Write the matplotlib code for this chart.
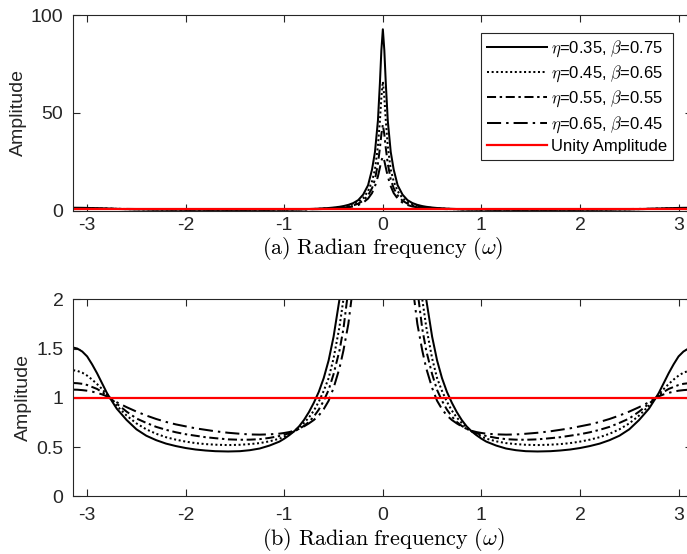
import numpy as np
import matplotlib
matplotlib.use("Agg")
import matplotlib.pyplot as plt

plt.rcParams['font.family'] = ['Liberation Sans', 'DejaVu Sans']
plt.rcParams['mathtext.fontset'] = 'cm'

# ---- data (radian frequency vs amplitude) ----
# left half (omega < 0), ascending
omega_left = [-3.1416, -3.1, -3.05, -3.0, -2.95, -2.9, -2.85, -2.8, -2.77, -2.7, -2.6,
              -2.5, -2.4, -2.3, -2.2, -2.1, -2.0, -1.9, -1.8, -1.7, -1.57, -1.45, -1.35,
              -1.25, -1.15, -1.05, -1.0, -0.95, -0.9, -0.85, -0.8, -0.75, -0.7, -0.65,
              -0.6, -0.55, -0.5, -0.44, -0.4, -0.35, -0.3, -0.25, -0.2, -0.15, -0.11,
              -0.08, -0.05, -0.03, -0.015]
# right half (omega >= 0), ascending
omega_right = [0.0, 0.015, 0.03, 0.05, 0.08, 0.11, 0.15, 0.2, 0.25, 0.3, 0.35, 0.4, 0.44,
               0.5, 0.55, 0.6, 0.65, 0.7, 0.75, 0.8, 0.85, 0.9, 0.95, 1.0, 1.05, 1.15,
               1.25, 1.35, 1.45, 1.57, 1.7, 1.8, 1.9, 2.0, 2.1, 2.2, 2.3, 2.4, 2.5, 2.6,
               2.7, 2.77, 2.8, 2.85, 2.9, 2.95, 3.0, 3.05, 3.1, 3.1416]

# eta=0.35, beta=0.75
amp_s1_left = [1.51, 1.50, 1.47, 1.42, 1.34, 1.25, 1.15, 1.05, 1.0, 0.89, 0.775,
               0.68, 0.615, 0.57, 0.535, 0.51, 0.49, 0.475, 0.465, 0.458, 0.455, 0.458,
               0.468, 0.485, 0.515, 0.555, 0.585, 0.62, 0.66, 0.71, 0.775, 0.855, 0.95,
               1.06, 1.2, 1.38, 1.62, 2.0, 2.36, 2.98, 3.9, 5.4, 8.2, 13.0, 21.0,
               30.0, 46.0, 65.0, 82.0]
amp_s1_right = [92.7, 82.0, 65.0, 46.0, 30.0, 21.0, 13.0, 8.2, 5.4, 3.9, 2.98, 2.36, 2.0,
                1.62, 1.38, 1.2, 1.06, 0.95, 0.855, 0.775, 0.71, 0.66, 0.62, 0.585, 0.555,
                0.515, 0.485, 0.468, 0.458, 0.455, 0.458, 0.465, 0.475, 0.49, 0.51, 0.535,
                0.57, 0.615, 0.68, 0.775, 0.89, 1.0, 1.05, 1.15, 1.25, 1.34, 1.42, 1.47,
                1.50, 1.51]

# eta=0.45, beta=0.65
amp_s2_left = [1.28, 1.273, 1.255, 1.225, 1.185, 1.14, 1.09, 1.035, 1.0, 0.92, 0.82,
               0.74, 0.68, 0.635, 0.6, 0.575, 0.555, 0.54, 0.53, 0.524, 0.52, 0.523,
               0.53, 0.54, 0.558, 0.585, 0.605, 0.63, 0.66, 0.7, 0.745, 0.8, 0.87,
               0.96, 1.07, 1.2, 1.4, 1.72, 2.0, 2.5, 3.3, 4.5, 6.4, 10.0, 15.0,
               21.0, 33.0, 46.0, 58.0]
amp_s2_right = [66.0, 58.0, 46.0, 33.0, 21.0, 15.0, 10.0, 6.4, 4.5, 3.3, 2.5, 2.0, 1.72,
                1.4, 1.2, 1.07, 0.96, 0.87, 0.8, 0.745, 0.7, 0.66, 0.63, 0.605, 0.585,
                0.558, 0.54, 0.53, 0.523, 0.52, 0.524, 0.53, 0.54, 0.555, 0.575, 0.6,
                0.635, 0.68, 0.74, 0.82, 0.92, 1.0, 1.035, 1.09, 1.14, 1.185, 1.225,
                1.255, 1.273, 1.28]

# eta=0.55, beta=0.55
amp_s3_left = [1.15, 1.148, 1.142, 1.13, 1.11, 1.09, 1.06, 1.025, 1.0, 0.94, 0.86,
               0.79, 0.745, 0.705, 0.675, 0.65, 0.63, 0.615, 0.6, 0.59, 0.578, 0.574,
               0.575, 0.58, 0.593, 0.612, 0.625, 0.64, 0.66, 0.685, 0.715, 0.755, 0.81,
               0.88, 0.97, 1.08, 1.24, 1.48, 1.7, 2.1, 2.7, 3.6, 5.1, 7.8, 11.5,
               16.0, 24.0, 32.0, 39.0]
amp_s3_right = [44.0, 39.0, 32.0, 24.0, 16.0, 11.5, 7.8, 5.1, 3.6, 2.7, 2.1, 1.7, 1.48,
                1.24, 1.08, 0.97, 0.88, 0.81, 0.755, 0.715, 0.685, 0.66, 0.64, 0.625,
                0.612, 0.593, 0.58, 0.575, 0.574, 0.578, 0.59, 0.6, 0.615, 0.63, 0.65,
                0.675, 0.705, 0.745, 0.79, 0.86, 0.94, 1.0, 1.025, 1.06, 1.09, 1.11,
                1.13, 1.142, 1.148, 1.15]

# eta=0.65, beta=0.45
amp_s4_left = [1.083, 1.082, 1.078, 1.072, 1.063, 1.05, 1.035, 1.015, 1.0, 0.955, 0.905,
               0.86, 0.82, 0.785, 0.755, 0.73, 0.71, 0.69, 0.675, 0.66, 0.645, 0.635,
               0.628, 0.626, 0.629, 0.636, 0.643, 0.652, 0.665, 0.685, 0.71, 0.74, 0.775,
               0.82, 0.885, 0.97, 1.1, 1.3, 1.48, 1.75, 2.15, 2.9, 4.1, 6.2, 9.0,
               12.5, 17.5, 22.0, 25.5]
amp_s4_right = [27.6, 25.5, 22.0, 17.5, 12.5, 9.0, 6.2, 4.1, 2.9, 2.15, 1.75, 1.48, 1.3,
                1.1, 0.97, 0.885, 0.82, 0.775, 0.74, 0.71, 0.685, 0.665, 0.652, 0.643,
                0.636, 0.629, 0.626, 0.628, 0.635, 0.645, 0.66, 0.675, 0.69, 0.71, 0.73,
                0.755, 0.785, 0.82, 0.86, 0.905, 0.955, 1.0, 1.015, 1.035, 1.05, 1.063,
                1.072, 1.078, 1.082, 1.083]

unity = [1.0, 1.0]
unity_omega = [-np.pi, np.pi]

labels = [r'$\eta$=0.35, $\beta$=0.75', r'$\eta$=0.45, $\beta$=0.65',
          r'$\eta$=0.55, $\beta$=0.55', r'$\eta$=0.65, $\beta$=0.45',
          'Unity Amplitude']

omega = omega_left + omega_right
series = [amp_s1_left + amp_s1_right, amp_s2_left + amp_s2_right,
          amp_s3_left + amp_s3_right, amp_s4_left + amp_s4_right]
styles = [dict(linestyle='-'),
          dict(linestyle=(0, (1.0, 1.3))),
          dict(linestyle=(0, (4.5, 1.8, 1.2, 1.8))),
          dict(linestyle=(0, (7.0, 2.5, 1.2, 2.5)))]

xticks = [-3, -2, -1, 0, 1, 2, 3]
yticks_a = [0, 50, 100]
yticks_b = [0, 0.5, 1, 1.5, 2]
ytick_labels_b = ['0', '0.5', '1', '1.5', '2']

W, H = 687, 554
fig = plt.figure(figsize=(W / 100, H / 100), dpi=100)

def pos(l, r, t, b):
    return [l / W, 1 - b / H, (r - l) / W, (b - t) / H]

ax1 = fig.add_axes(pos(73.2, 692.5, 15.0, 210.7))
ax2 = fig.add_axes(pos(73.2, 692.5, 299.3, 496.3))

dark = '#262626'
for ax in (ax1, ax2):
    for s, st, lab in zip(series, styles, labels[:4]):
        ax.plot(omega, s, color='black', linewidth=1.45, label=lab, **st)
    ax.plot(unity_omega, unity, color='red', linewidth=1.6, label=labels[4])
    ax.set_xlim(-np.pi, np.pi)
    ax.set_xticks(xticks)
    ax.set_xticklabels([str(t) for t in xticks])
    ax.tick_params(direction='in', top=True, right=True, length=5, width=0.8,
                   labelsize=14, colors=dark)
    ax.tick_params(axis='y', pad=7)
    for sp in ax.spines.values():
        sp.set_color(dark)
        sp.set_linewidth(0.8)
    ax.set_ylabel('Amplitude', fontsize=14, color=dark, labelpad=3)

ax1.tick_params(axis='x', pad=4.5)
ax2.tick_params(axis='x', pad=8)

ax1.set_ylim(0, 100)
ax1.set_yticks(yticks_a)
ax1.set_xlabel(r'$\mathrm{(a)\ Radian\ frequency\ }(\omega)$', fontsize=16, labelpad=0.5)
ax2.set_ylim(0, 2)
ax2.set_yticks(yticks_b)
ax2.set_yticklabels(ytick_labels_b)
ax2.set_xlabel(r'$\mathrm{(b)\ Radian\ frequency\ }(\omega)$', fontsize=16, labelpad=1)

leg = ax1.legend(loc='upper right', bbox_to_anchor=((673 - 73.2) / 619.3, (210.7 - 33) / 195.7),
                 borderaxespad=0, fontsize=12, handlelength=3.6, handletextpad=0.25,
                 labelspacing=0.28, borderpad=0.35, fancybox=False, framealpha=1,
                 edgecolor=dark)
leg.get_frame().set_linewidth(0.8)

fig.savefig('out.png', dpi=100)
